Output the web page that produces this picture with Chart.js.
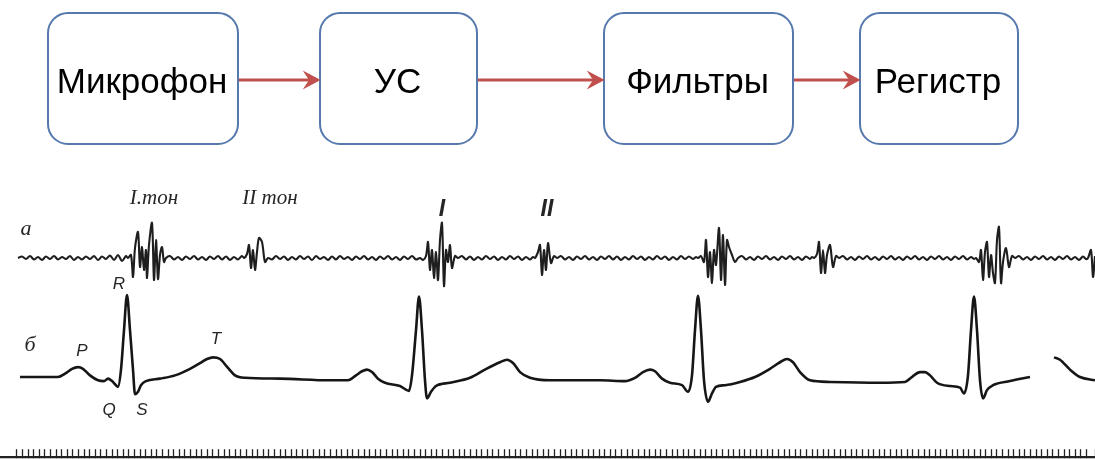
<!DOCTYPE html>
<html>
<head>
<meta charset="utf-8">
<script src="https://cdn.jsdelivr.net/npm/chart.js@4.4.1/dist/chart.umd.min.js"></script>
<style>
  html, body { margin: 0; padding: 0; background: #ffffff; }
  #wrap { width: 1095px; height: 459px; position: relative; }
</style>
</head>
<body>
<div id="wrap"><canvas id="c" width="1095" height="459"></canvas></div>
<script>
// ---------- DATA ----------
// Block diagram labels
const blockLabels = ['Микрофон', 'УС', 'Фильтры', 'Регистр'];

// Trace annotations
const traceLabels = ['а', 'I.тон', 'II тон', 'I', 'II', 'R', 'б', 'P', 'T', 'Q', 'S'];

// Phonocardiogram (a): [time, amplitude in arbitrary units]
const pcgSignal = [
  [18,0],[22,0.15],[26,-0.1],[30,0.2],[34,-0.15],[38,0.1],[42,-0.2],[46,0.15],[50,-0.1],[54,0.2],
  [58,-0.15],[62,0.1],[66,-0.1],[70,0.2],[74,-0.2],[78,0.1],[82,-0.15],[86,0.15],[90,-0.1],[94,0.2],
  [98,-0.2],[102,0.15],[106,-0.1],[110,0.25],[114,-0.2],[118,0.3],[122,-0.3],[126,0.2],
  // I tone
  [128,0],[131,0.3],[133,-1.9],[135,1.0],[138,2.6],[140,-0.9],[142,1.1],[144,-1.2],[146,0.8],[147,-2.0],
  [149,1.3],[152,3.5],[154,-2.2],[156,1.8],[158,-2.1],[160,0.3],[162,1.1],[164,-0.4],[166,0],
  [170,0.2],[174,-0.15],[178,0.1],[182,-0.2],[186,0.15],[190,-0.1],[194,0.2],[198,-0.15],[202,0.1],
  [206,-0.2],[210,0.15],[214,-0.1],[218,0.2],[222,-0.15],[226,0.15],[230,-0.2],[234,0.1],[238,-0.15],[242,0.2],
  // II tone
  [244,0],[247,0.4],[249,1.3],[251,-1.0],[253,0.8],[255,-1.2],[257,0.6],[259,2.0],[262,1.6],[265,-0.4],[268,0],
  [272,-0.15],[276,0.2],[280,-0.1],[284,0.15],[288,-0.2],[292,0.1],[296,-0.15],[300,0.2],[304,-0.1],
  [308,0.15],[312,-0.2],[316,0.2],[320,-0.1],[324,0.1],[328,-0.2],[332,0.15],[336,-0.15],[340,0.2],
  [344,-0.1],[348,0.1],[352,-0.2],[356,0.15],[360,-0.1],[364,0.2],[368,-0.15],[372,0.1],[376,-0.2],
  [380,0.15],[384,-0.1],[388,0.2],[392,-0.15],[396,0.1],[400,-0.2],[404,0.15],[408,-0.1],[412,0.2],[416,-0.15],
  // I
  [420,0],[423,-0.2],[426,0.2],[428,1.6],[430,-1.2],[432,0.8],[434,-2.0],[436,0.6],[438,-2.2],[440,1.8],
  [442,3.5],[444,-2.8],[446,0.8],[448,-0.4],[450,1.3],[452,-1.0],[455,0.2],[458,0],
  [462,0.2],[466,-0.15],[470,0.15],[474,-0.2],[478,0.1],[482,-0.15],[486,0.2],[490,-0.1],[494,0.15],
  [498,-0.2],[502,0.1],[506,-0.15],[510,0.2],[514,-0.1],[518,0.15],[522,-0.2],[526,0.1],[530,-0.15],[533,0.1],
  // II
  [535,0],[538,0.6],[540,1.3],[542,-1.7],[544,0.8],[546,-1.2],[548,1.5],[551,-0.5],[554,0.2],[557,0],
  [561,0.2],[565,-0.15],[569,0.1],[573,-0.2],[577,0.15],[581,-0.1],[585,0.2],[589,-0.15],[593,0.1],
  [597,-0.2],[601,0.15],[605,-0.1],[609,0.2],[613,-0.15],[617,0.15],[621,-0.2],[625,0.1],[629,-0.15],
  [633,0.2],[637,-0.1],[641,0.15],[645,-0.2],[649,0.1],[653,-0.15],[657,0.2],[661,-0.1],[665,0.15],
  [669,-0.2],[673,0.1],[677,-0.15],[681,0.2],[685,-0.1],[689,0.15],[693,-0.1],[696,0.1],
  // I
  [698,0],[701,0.2],[704,-0.4],[706,1.8],[708,-1.9],[710,0.6],[712,-2.5],[714,0.8],[716,-0.7],[719,3.0],
  [721,-2.2],[723,2.3],[725,-2.7],[727,1.8],[729,1.1],[732,0.3],[735,-0.4],[738,0],
  [742,0.2],[746,-0.15],[750,0.1],[754,-0.2],[758,0.15],[762,-0.1],[766,0.2],[770,-0.15],[774,0.1],
  [778,-0.2],[782,0.15],[786,-0.1],[790,0.2],[794,-0.15],[798,0.1],[802,-0.2],[806,0.15],[810,-0.1],[812,0.1],
  // II
  [814,0],[817,0.4],[819,1.6],[821,-1.5],[823,0.8],[825,-1.5],[827,0.3],[830,1.3],[833,-0.9],[836,0.2],[839,0],
  [843,0.2],[847,-0.15],[851,0.1],[855,-0.2],[859,0.15],[863,-0.1],[867,0.2],[871,-0.15],[875,0.1],
  [879,-0.2],[883,0.15],[887,-0.1],[891,0.2],[895,-0.15],[899,0.1],[903,-0.2],[907,0.15],[911,-0.1],
  [915,0.2],[919,-0.15],[923,0.1],[927,-0.2],[931,0.15],[935,-0.1],[939,0.2],[943,-0.15],[947,0.1],
  [951,-0.2],[955,0.15],[959,-0.1],[963,0.2],[967,-0.15],[971,0.1],[974,-0.1],
  // I
  [976,0],[979,-0.4],[981,0.8],[983,-2.2],[985,0.6],[987,1.6],[989,-1.9],[991,0.3],[993,-1.5],[995,-2.5],
  [997,1.8],[999,3.1],[1001,-2.5],[1003,-0.4],[1006,1.0],[1009,-0.9],[1012,0.2],[1015,0],
  [1019,0.2],[1023,-0.15],[1027,0.1],[1031,-0.2],[1035,0.15],[1039,-0.1],[1043,0.2],[1047,-0.15],
  [1051,0.1],[1055,-0.2],[1059,0.15],[1063,-0.1],[1067,0.2],[1071,-0.15],[1075,0.1],[1079,-0.2],
  [1083,0.15],[1086,-0.1],
  [1088,0],[1091,0.8],[1093,-1.9],[1095,0.2]
];

// Electrocardiogram (б): [time, mV]
const ecgSignal = [
  [20,0],[58,0],[65,0.04],[72,0.10],[78,0.12],[83,0.10],[90,0.02],[98,-0.04],[104,-0.05],[108,-0.02],
  [112,-0.05],[116,-0.10],[118,-0.12],[121,0.09],[124,0.57],[127,1.00],[130,0.57],[133,0.09],[135,-0.21],
  [138,-0.18],[141,-0.10],[146,-0.05],[160,-0.02],[175,0.02],[190,0.10],[200,0.17],[207,0.22],[213,0.24],
  [220,0.22],[228,0.11],[235,0.02],[245,-0.01],[280,-0.02],[330,-0.04],[348,-0.04],[356,0.02],[362,0.07],
  [367,0.09],[372,0.06],[378,-0.02],[385,-0.07],[400,-0.11],[409,-0.17],[412,0.02],[416,0.57],[419,0.98],
  [422,0.57],[425,-0.04],[427,-0.26],[431,-0.18],[436,-0.11],[450,-0.07],[470,-0.01],[485,0.09],[500,0.18],
  [507,0.21],[513,0.17],[520,0.06],[530,-0.01],[550,-0.04],[600,-0.04],[625,-0.05],[635,-0.01],[643,0.06],
  [650,0.09],[655,0.07],[662,-0.02],[670,-0.07],[682,-0.10],[688,-0.18],[692,0.02],[695,0.57],[698,0.99],
  [701,0.57],[704,-0.04],[708,-0.30],[712,-0.20],[716,-0.12],[725,-0.10],[740,-0.06],[755,0],[770,0.10],
  [780,0.18],[787,0.22],[793,0.18],[800,0.06],[810,-0.04],[830,-0.06],[880,-0.07],[905,-0.06],[912,0],
  [920,0.06],[925,0.06],[930,0.02],[937,-0.07],[950,-0.11],[960,-0.13],[964,-0.20],[968,0.02],[971,0.57],
  [974,0.98],[977,0.57],[980,-0.04],[983,-0.26],[987,-0.16],[993,-0.10],[1010,-0.05],[1030,0],
  [1042,null],[1054,0.24],[1060,0.21],[1070,0.09],[1080,0],[1095,-0.04]
];

// Time-mark interval and start of the marker strip
const timeMarkStep = 5.6;
const timeMarkStart = 16;

// ---------- DRAWING ----------
const diagramPlugin = {
  id: 'diagram',
  beforeDraw(chart, args, opts) {
    const ctx = chart.ctx;
    ctx.save();
    ctx.fillStyle = '#ffffff';
    ctx.fillRect(0, 0, chart.width, chart.height);
    ctx.restore();
  },
  afterDraw(chart, args, opts) {
    const ctx = chart.ctx;
    ctx.save();
    // boxes
    opts.boxes.forEach((b, i) => {
      ctx.beginPath();
      ctx.roundRect(b.x, b.y, b.w, b.h, opts.radius);
      ctx.fillStyle = '#ffffff';
      ctx.fill();
      ctx.lineWidth = 2;
      ctx.strokeStyle = opts.boxColor;
      ctx.stroke();
      ctx.fillStyle = '#000000';
      ctx.font = opts.boxFont;
      ctx.textAlign = 'center';
      ctx.textBaseline = 'alphabetic';
      ctx.fillText(blockLabels[i], b.x + b.w / 2 - 1, opts.textBaseline);
    });
    // arrows
    for (let i = 0; i < opts.boxes.length - 1; i++) {
      const x1 = opts.boxes[i].x + opts.boxes[i].w + 1;
      const x2 = opts.boxes[i + 1].x - 1;
      const y = opts.arrowY;
      ctx.strokeStyle = opts.arrowColor;
      ctx.fillStyle = opts.arrowColor;
      ctx.lineWidth = 3.2;
      ctx.beginPath();
      ctx.moveTo(x1, y);
      ctx.lineTo(x2 - 8, y);
      ctx.stroke();
      ctx.beginPath();
      ctx.moveTo(x2, y);
      ctx.lineTo(x2 - 14, y - 7.5);
      ctx.lineTo(x2 - 9, y);
      ctx.lineTo(x2 - 14, y + 7.5);
      ctx.closePath();
      ctx.fill();
      ctx.lineWidth = 1.5;
      ctx.stroke();
    }
    // trace annotations
    ctx.fillStyle = '#252525';
    ctx.textAlign = 'center';
    ctx.textBaseline = 'middle';
    opts.labels.forEach((l, i) => {
      ctx.font = l.font;
      ctx.fillText(traceLabels[i], l.x, l.y);
    });
    ctx.restore();
  }
};

const serifIt = 'italic 22px "Liberation Serif"';
const sansIt = 'italic 17px "Liberation Sans"';

new Chart(document.getElementById('c'), {
  type: 'line',
  data: {
    datasets: [
      {
        label: 'ФКГ',
        data: pcgSignal.map(([t, v]) => ({ x: t, y: v })),
        yAxisID: 'yPcg',
        borderColor: '#1e1e1e',
        borderWidth: 2.1,
        pointRadius: 0,
        tension: 0.3
      },
      {
        label: 'ЭКГ',
        data: ecgSignal.map(([t, v]) => ({ x: t, y: v })),
        yAxisID: 'yEcg',
        borderColor: '#161616',
        borderWidth: 2.6,
        pointRadius: 0,
        cubicInterpolationMode: 'monotone',
        spanGaps: false
      }
    ]
  },
  options: {
    responsive: false,
    animation: false,
    devicePixelRatio: 1,
    layout: { padding: 0 },
    plugins: {
      legend: { display: false },
      tooltip: { enabled: false },
      diagram: {
        boxes: [
          { x: 48, y: 13, w: 190, h: 131 },
          { x: 320, y: 13, w: 157, h: 131 },
          { x: 604, y: 13, w: 189, h: 131 },
          { x: 860, y: 13, w: 158, h: 131 }
        ],
        radius: 20,
        boxColor: '#5579ad',
        boxFont: '35px "Liberation Sans"',
        textBaseline: 93,
        arrowY: 80,
        arrowColor: '#c0504d',
        labels: [
          { x: 26, y: 229, font: serifIt },
          { x: 154, y: 198, font: 'italic 21px "Liberation Serif"' },
          { x: 270, y: 198, font: 'italic 21px "Liberation Serif"' },
          { x: 442, y: 210, font: 'italic bold 23px "Liberation Sans"' },
          { x: 547, y: 210, font: 'italic bold 23px "Liberation Sans"' },
          { x: 119, y: 284, font: sansIt },
          { x: 30, y: 345, font: serifIt },
          { x: 82, y: 351, font: sansIt },
          { x: 216, y: 339, font: sansIt },
          { x: 109, y: 410, font: sansIt },
          { x: 142, y: 410, font: sansIt }
        ]
      }
    },
    scales: {
      x: {
        type: 'linear',
        min: 0,
        max: 1095,
        position: { yEcg: -0.976 },
        ticks: { display: false, stepSize: timeMarkStep, autoSkip: false },
        grid: {
          drawOnChartArea: false,
          drawTicks: true,
          tickLength: -9,
          tickColor: '#222222',
          tickWidth: 1.3
        },
        border: { display: true, color: '#222222', width: 2.2 },
        afterBuildTicks: (axis) => {
          axis.ticks = axis.ticks.filter(t => t.value >= timeMarkStart);
        }
      },
      yPcg: { type: 'linear', display: false, min: -20.1, max: 25.8 },
      yEcg: { type: 'linear', display: false, min: -1.0, max: 4.598 }
    }
  },
  plugins: [diagramPlugin]
});
</script>
</body>
</html>
